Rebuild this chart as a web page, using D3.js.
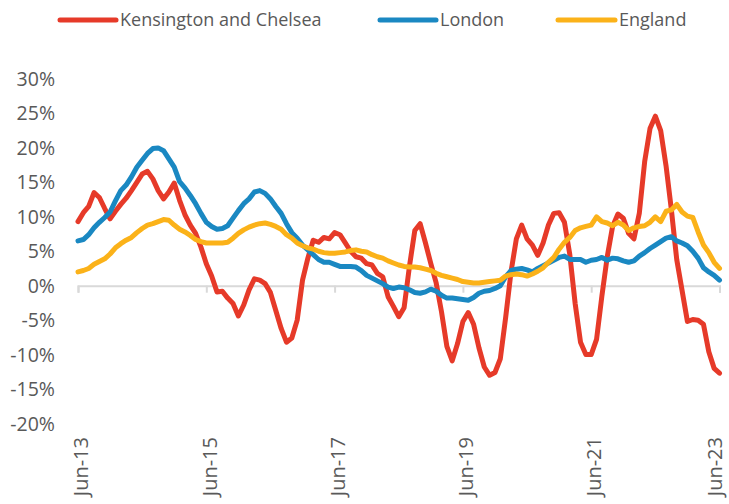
<!DOCTYPE html>
<html>
<head>
<meta charset="utf-8">
<script src="https://cdnjs.cloudflare.com/ajax/libs/d3/7.8.5/d3.min.js"></script>
<style>
  body { margin: 0; background: #fff; }
  text { font-family: "Open Sans", sans-serif; fill: #595959; }
</style>
</head>
<body>
<div id="chart"></div>
<script>
// monthly annual change, Jun-13 .. Jun-23 (121 months)
var tickLabels = ["Jun-13", "Jun-15", "Jun-17", "Jun-19", "Jun-21", "Jun-23"];
var yTicks = [-20, -15, -10, -5, 0, 5, 10, 15, 20, 25, 30];

var kensington = [
  9.3, 10.6, 11.5, 13.5, 12.8, 11.2, 9.7, 10.8, 11.8, 12.7, 13.8, 15.0,
  16.2, 16.6, 15.5, 13.8, 12.6, 13.6, 14.9, 12.4, 10.3, 8.8, 7.6, 5.6,
  3.2, 1.4, -0.9, -0.8, -1.8, -2.6, -4.4, -2.8, -0.6, 1.0, 0.8, 0.3,
  -1.0, -3.6, -6.2, -8.2, -7.6, -5.0, 0.8, 4.0, 6.6, 6.3, 7.0, 6.8,
  7.7, 7.4, 6.2, 5.0, 4.2, 4.0, 3.2, 3.0, 1.8, 1.3, -1.6, -3.0,
  -4.5, -3.2, 2.8, 8.0, 9.0, 6.2, 3.2, 0.4, -3.8, -8.8, -10.9, -8.4,
  -5.2, -3.9, -5.6, -9.0, -11.8, -13.0, -12.6, -10.6, -4.6, 2.0, 6.8, 8.8,
  6.8, 5.9, 4.4, 6.2, 8.8, 10.5, 10.6, 9.2, 4.5, -2.6, -8.2, -10.0,
  -10.0, -7.8, -1.5, 4.2, 8.6, 10.4, 9.8, 7.6, 6.8, 10.5, 18.0, 22.8,
  24.6, 22.5, 17.4, 11.0, 3.8, -0.7, -5.2, -4.9, -5.0, -5.6, -9.6, -12.0,
  -12.7
];

var london = [
  6.5, 6.7, 7.4, 8.4, 9.2, 9.9, 10.7, 12.3, 13.8, 14.6, 15.8, 17.2,
  18.2, 19.2, 19.9, 20.0, 19.6, 18.4, 17.2, 15.1, 14.2, 13.1, 11.9, 10.5,
  9.2, 8.6, 8.2, 8.3, 8.7, 9.8, 10.9, 11.9, 12.6, 13.6, 13.8, 13.4,
  12.6, 11.5, 10.5, 9.0, 7.7, 6.9, 5.9, 5.2, 4.5, 3.8, 3.4, 3.4,
  3.1, 2.8, 2.8, 2.8, 2.7, 2.2, 1.5, 1.1, 0.7, 0.3, -0.2, -0.4,
  -0.2, -0.3, -0.6, -1.0, -1.1, -0.9, -0.5, -0.8, -1.4, -1.8, -1.8, -1.9,
  -2.0, -2.1, -1.7, -1.1, -0.8, -0.7, -0.4, 0.0, 1.3, 2.2, 2.4, 2.5,
  2.3, 2.0, 2.5, 2.9, 3.3, 3.7, 4.1, 4.3, 3.8, 3.8, 3.8, 3.4,
  3.7, 3.8, 4.1, 3.7, 4.0, 3.9, 3.6, 3.4, 3.6, 4.3, 4.8, 5.4,
  5.9, 6.4, 6.9, 7.1, 6.5, 6.2, 5.8, 5.0, 4.0, 2.6, 2.0, 1.5,
  0.8
];

var england = [
  2.0, 2.2, 2.5, 3.1, 3.5, 3.9, 4.6, 5.5, 6.1, 6.6, 7.0, 7.7,
  8.3, 8.8, 9.0, 9.3, 9.6, 9.5, 8.8, 8.2, 7.8, 7.3, 6.7, 6.4,
  6.2, 6.2, 6.2, 6.2, 6.3, 6.9, 7.6, 8.1, 8.5, 8.8, 9.0, 9.1,
  8.9, 8.6, 8.2, 7.4, 6.9, 6.2, 5.8, 5.5, 5.3, 5.0, 4.8, 4.7,
  4.7, 4.8, 4.9, 5.1, 5.2, 5.0, 4.9, 4.5, 4.2, 4.0, 3.6, 3.3,
  3.0, 2.8, 2.7, 2.7, 2.6, 2.4, 2.2, 1.8, 1.5, 1.3, 1.1, 0.9,
  0.6, 0.5, 0.4, 0.4, 0.5, 0.6, 0.7, 0.8, 1.4, 1.6, 1.7, 1.6,
  1.4, 1.7, 2.1, 2.6, 3.4, 4.1, 5.3, 6.3, 7.0, 8.0, 8.4, 8.6,
  8.8, 10.0, 9.3, 9.1, 8.7, 9.2, 8.8, 8.0, 8.4, 8.6, 8.7, 9.2,
  10.0, 9.3, 10.8, 11.0, 11.8, 10.7, 10.1, 9.9, 7.8, 5.9, 4.8, 3.4,
  2.5
];

var seriesNames = ["Kensington and Chelsea", "London", "England"];
var seriesColors = ["#e63a29", "#1a88c2", "#fbb219"];
var allSeries = [kensington, london, england];

var width = 729, height = 504;

var svg = d3.select("#chart").append("svg")
    .attr("width", width)
    .attr("height", height);

var x = d3.scaleLinear().domain([0, 120]).range([78, 719.5]);
var y = d3.scaleLinear().domain([-20, 30]).range([423.5, 79]);

// y labels (no axis line)
svg.append("g").selectAll("text")
  .data(yTicks)
  .enter().append("text")
    .attr("x", 55)
    .attr("y", function(d) { return y(d); })
    .attr("dy", "0.36em")
    .attr("text-anchor", "end")
    .style("font-size", "19.5px")
    .text(function(d) { return d + "%"; });

// x axis at 0%
var xAxis = d3.axisBottom(x)
    .tickValues([0, 24, 48, 72, 96, 120])
    .tickSize(7)
    .tickFormat("");
var gx = svg.append("g")
    .attr("transform", "translate(0," + y(0) + ")")
    .call(xAxis);
gx.select(".domain").attr("stroke", "#d9d9d9").attr("stroke-width", 2);
gx.selectAll(".tick line").attr("stroke", "#d9d9d9").attr("stroke-width", 2);

// rotated month labels (last one nudged in so it stays on the page)
svg.append("g").selectAll("text")
  .data(tickLabels)
  .enter().append("text")
    .attr("transform", function(d, i) {
      var lx = Math.min(x(i * 24) + 3, 715);
      return "translate(" + lx + ",437) rotate(-90)";
    })
    .attr("text-anchor", "end")
    .attr("dy", "0.36em")
    .style("font-size", "20px")
    .text(function(d) { return d; });

var line = d3.line()
    .x(function(d, i) { return x(i); })
    .y(function(d) { return y(d); });

allSeries.forEach(function(s, k) {
  svg.append("path")
    .datum(s)
    .attr("d", line)
    .attr("fill", "none")
    .attr("stroke", seriesColors[k])
    .attr("stroke-width", 5)
    .attr("stroke-linejoin", "round")
    .attr("stroke-linecap", "round");
});

// legend
var legendPos = [[60, 116], [380, 436], [558, 615]];
var legend = svg.append("g");
seriesNames.forEach(function(name, k) {
  legend.append("line")
    .attr("x1", legendPos[k][0]).attr("x2", legendPos[k][1])
    .attr("y1", 20).attr("y2", 20)
    .attr("stroke", seriesColors[k])
    .attr("stroke-width", 5)
    .attr("stroke-linecap", "round");
  legend.append("text")
    .attr("x", legendPos[k][1] + 4)
    .attr("y", 20)
    .attr("dy", "0.35em")
    .style("font-size", "18px")
    .text(name);
});
</script>
</body>
</html>
